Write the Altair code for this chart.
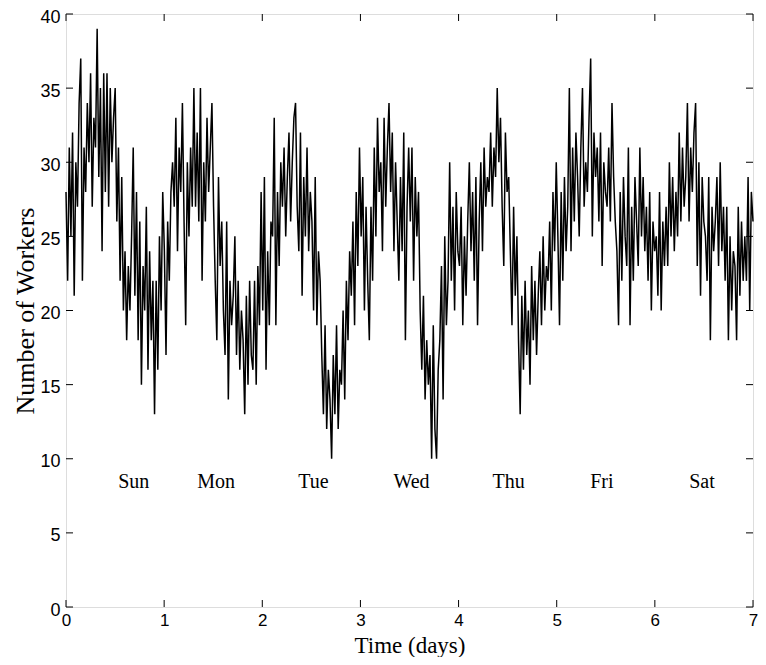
import altair as alt
import numpy as np
import pandas as pd

# Number of workers (6 samples per 0.1 day)
sun = [28, 22, 31, 25, 32, 21,  30, 27, 34, 37, 22, 31,  28, 34, 30, 36, 27, 33,
       31, 39, 29, 35, 24, 36,  28, 36, 27, 35, 30, 33,  35, 26, 31, 22, 29, 20,
       24, 18, 23, 20, 25, 31,  21, 28, 18, 26, 15, 23,  20, 27, 16, 24, 18, 22,
       13, 22, 16, 25, 20, 28]
mon = [24, 17, 26, 22, 28, 30,  27, 33, 24, 31, 28, 34,  26, 19, 30, 25, 31, 27,
       35, 27, 32, 26, 35, 22,  30, 26, 33, 28, 31, 34,  27, 22, 18, 29, 23, 26,
       20, 17, 26, 14, 22, 19,  21, 25, 17, 22, 16, 20,  18, 13, 21, 15, 22, 17,
       16, 22, 15, 23, 19, 28]
tue = [20, 29, 16, 24, 19, 26,  25, 33, 19, 28, 23, 30,  27, 31, 25, 29, 32, 26,
       30, 33, 34, 27, 24, 32,  21, 29, 25, 31, 24, 28,  26, 20, 29, 19, 24, 22,
       17, 13, 19, 12, 16, 14,  10, 17, 13, 19, 12, 16,  15, 20, 14, 22, 18, 24,
       21, 26, 19, 28, 23, 31]
wed = [25, 29, 20, 27, 22, 18,  27, 22, 31, 25, 33, 28,  30, 24, 33, 27, 31, 34,
       28, 32, 24, 30, 26, 22,  29, 24, 32, 18, 27, 31,  26, 31, 22, 29, 25, 28,
       20, 16, 21, 14, 18, 15,  17, 10, 19, 12, 10, 16,  18, 23, 14, 25, 19, 22,
       30, 22, 27, 20, 28, 24]
thu = [23, 27, 19, 25, 21, 26,  30, 24, 28, 22, 29, 19,  26, 30, 24, 31, 27, 29,
       28, 32, 27, 31, 29, 35,  30, 33, 27, 23, 32, 28,  29, 24, 19, 27, 21, 25,
       18, 13, 21, 16, 22, 17,  20, 15, 23, 18, 22, 17,  21, 24, 19, 25, 20, 23,
       22, 26, 20, 28, 24, 30]
fri = [25, 19, 28, 22, 29, 24,  27, 35, 24, 31, 26, 32,  29, 25, 31, 35, 27, 30,
       28, 33, 37, 25, 32, 29,  31, 26, 32, 23, 30, 28,  27, 31, 26, 34, 29, 26,
       24, 19, 28, 22, 29, 25,  23, 31, 19, 27, 22, 29,  26, 23, 31, 25, 29, 24,
       27, 22, 28, 20, 26, 24]
sat = [25, 21, 28, 20, 26, 23,  27, 23, 30, 25, 29, 24,  28, 25, 32, 26, 31, 27,
       29, 34, 26, 31, 28, 32,  34, 23, 30, 21, 29, 26,  25, 22, 29, 18, 27, 24,
       26, 29, 23, 30, 24, 27,  22, 27, 18, 25, 20, 24,  23, 18, 27, 21, 26, 22,
       25, 22, 29, 20, 28, 26]

day_names = ["Sun", "Mon", "Tue", "Wed", "Thu", "Fri", "Sat"]
day_label_x = [0.69, 1.53, 2.52, 3.52, 4.51, 5.46, 6.48]
day_label_y = [8, 8, 8, 8, 8, 8, 8]

x_ticks = [0, 1, 2, 3, 4, 5, 6, 7]
y_ticks = [0, 5, 10, 15, 20, 25, 30, 35, 40]

workers = sun + mon + tue + wed + thu + fri + sat
time = np.linspace(0, 7, len(workers))
df = pd.DataFrame({"t": time, "w": workers})
labels_df = pd.DataFrame({"x": day_label_x, "y": day_label_y, "name": day_names})
xt_df = pd.DataFrame({"v": x_ticks})
yt_df = pd.DataFrame({"v": y_ticks})

W, H = 687, 593
SANS = "Liberation Sans"
SERIF = "Liberation Serif"

xscale = alt.Scale(domain=[0, 7], nice=False)
yscale = alt.Scale(domain=[0, 40], nice=False)

line = alt.Chart(df).mark_line(color="black", strokeWidth=1.5).encode(
    x=alt.X("t:Q", scale=xscale,
            axis=alt.Axis(values=x_ticks, title="Time (days)", grid=False, domain=False,
                          tickSize=0, labelPadding=5, labelFontSize=17, labelFont=SANS,
                          labelColor="black", labelFlush=False, format="d",
                          titleFont=SERIF, titleFontSize=23, titleFontWeight="normal",
                          titleColor="black", titleY=45, titleBaseline="alphabetic")),
    y=alt.Y("w:Q", scale=yscale,
            axis=alt.Axis(values=y_ticks, title="Number of Workers", grid=False, domain=False,
                          tickSize=0, labelPadding=6, labelFontSize=18, labelFont=SANS,
                          labelColor="black", labelFlush=False, format="d", labelOffset=3,
                          titleFont=SERIF, titleFontSize=26, titleFontWeight="normal",
                          titleColor="black", titleX=-33, titleY=H / 2,
                          titleBaseline="alphabetic", titleAlign="center", titleAngle=270)),
)

text = alt.Chart(labels_df).mark_text(font=SERIF, fontSize=20, color="black",
                                      align="center", baseline="alphabetic").encode(
    x=alt.X("x:Q", scale=xscale), y=alt.Y("y:Q", scale=yscale), text="name:N")

tick_len = 7
bottom_ticks = alt.Chart(xt_df).mark_rule(color="black", strokeWidth=1).encode(
    x=alt.X("v:Q", scale=xscale), y=alt.value(H), y2=alt.value(H - tick_len))
top_ticks = alt.Chart(xt_df).mark_rule(color="black", strokeWidth=1).encode(
    x=alt.X("v:Q", scale=xscale), y=alt.value(0), y2=alt.value(tick_len))
left_ticks = alt.Chart(yt_df).mark_rule(color="black", strokeWidth=1).encode(
    y=alt.Y("v:Q", scale=yscale), x=alt.value(0), x2=alt.value(tick_len))
right_ticks = alt.Chart(yt_df).mark_rule(color="black", strokeWidth=1).encode(
    y=alt.Y("v:Q", scale=yscale), x=alt.value(W), x2=alt.value(W - tick_len))

chart = alt.layer(line, text, bottom_ticks, top_ticks, left_ticks, right_ticks).properties(
    width=W, height=H,
    autosize=alt.AutoSizeParams(type="none"),
    padding={"left": 58, "top": 6, "right": 5, "bottom": 50},
).configure_view(stroke="black", strokeWidth=1.5, strokeOpacity=1).configure(background="white")

chart.save("out.html", embed_options={"renderer": "svg", "actions": False})
